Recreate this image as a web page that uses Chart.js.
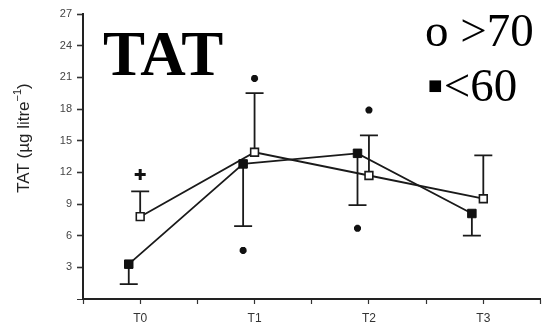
<!DOCTYPE html>
<html>
<head>
<meta charset="utf-8">
<script src="https://cdn.jsdelivr.net/npm/chart.js@4/dist/chart.umd.min.js"></script>
<style>
  html, body { margin: 0; padding: 0; background: #fff; }
  #wrap { width: 549px; height: 329px; position: relative; }
</style>
</head>
<body>
<div id="wrap"><canvas id="tatChart"></canvas></div>
<script>
// Data
const TIMEPOINTS = ['T0', 'T1', 'T2', 'T3'];
const Y_TICKS = [3, 6, 9, 12, 15, 18, 21, 24, 27];

// o >70 group (open squares, error bars upward)
const OVER70_MEAN = [7.8, 13.9, 11.7, 9.5];
const OVER70_UPPER = [10.2, 19.5, 15.5, 13.6];

// <60 group (filled squares, error bars downward)
const UNDER60_MEAN = [3.3, 12.8, 13.8, 8.1];
const UNDER60_LOWER = [1.4, 6.9, 8.9, 6.0];

// significance marks: [timepoint index, group, value]
const STAR_TIME = [1, 1, 2, 2];
const STAR_GROUP = ['over70', 'under60', 'over70', 'under60'];
const STAR_VALUE = [20.9, 4.6, 17.9, 6.7];
const PLUS_TIME = [0];
const PLUS_VALUE = [11.8];

const GROUP_SHIFT = { over70: 0, under60: -0.1 };

const pts = (vals, shift) => vals.map((v, i) => ({ x: i + shift, y: v }));

// error bars through the scales
const errorBars = {
    id: 'errorBars',
    beforeDatasetsDraw(chart) {
        const { ctx, scales: { x, y } } = chart;
        const cap = 9;
        ctx.save();
        ctx.strokeStyle = '#1a1a1a';
        ctx.lineWidth = 1.8;
        const draw = (means, ends, shift) => {
            means.forEach((m, i) => {
                const px = x.getPixelForValue(i + shift);
                const y0 = y.getPixelForValue(m);
                const y1 = y.getPixelForValue(ends[i]);
                ctx.beginPath();
                ctx.moveTo(px, y0); ctx.lineTo(px, y1);
                ctx.moveTo(px - cap, y1); ctx.lineTo(px + cap, y1);
                ctx.stroke();
            });
        };
        draw(OVER70_MEAN, OVER70_UPPER, GROUP_SHIFT.over70);
        draw(UNDER60_MEAN, UNDER60_LOWER, GROUP_SHIFT.under60);
        ctx.restore();
    }
};

// big title, legend text and the y-axis title
const labels = {
    id: 'labels',
    afterDraw(chart) {
        const ctx = chart.ctx;
        ctx.save();
        ctx.fillStyle = '#000';
        ctx.textBaseline = 'alphabetic';
        ctx.font = 'bold 63px "Liberation Serif", "Times New Roman", serif';
        ctx.fillText('TAT', 103, 75);
        ctx.font = '47px "Liberation Serif", "Times New Roman", serif';
        ctx.fillText('o >70', 425, 46);
        ctx.fillText('\u25AA<60', 427, 101);
        ctx.restore();

        // y-axis title with a real superscript
        ctx.save();
        ctx.translate(24, 138);
        ctx.rotate(-Math.PI / 2);
        ctx.fillStyle = '#222';
        ctx.textBaseline = 'middle';
        const main = '17px "Liberation Sans", Arial, sans-serif';
        const sup = '11px "Liberation Sans", Arial, sans-serif';
        ctx.font = main;
        const a = 'TAT (\u00B5g litre', c = ')';
        const wa = ctx.measureText(a).width, wc = ctx.measureText(c).width;
        ctx.font = sup;
        const wb = ctx.measureText('\u22121').width;
        let x0 = -(wa + wb + wc) / 2;
        ctx.font = main;
        ctx.fillText(a, x0, 0);
        ctx.font = sup;
        ctx.fillText('\u22121', x0 + wa, -6);
        ctx.font = main;
        ctx.fillText(c, x0 + wa + wb, 0);
        ctx.restore();
    }
};

const ctx = document.getElementById('tatChart').getContext('2d');
new Chart(ctx, {
    type: 'scatter',
    data: {
        datasets: [
            {
                label: '>70',
                data: pts(OVER70_MEAN, GROUP_SHIFT.over70),
                showLine: true,
                borderColor: '#1a1a1a',
                borderWidth: 1.8,
                pointStyle: 'rect',
                pointRadius: 5.5,
                pointBackgroundColor: '#fff',
                pointBorderColor: '#1a1a1a',
                pointBorderWidth: 1.6,
                order: 2
            },
            {
                label: '<60',
                data: pts(UNDER60_MEAN, GROUP_SHIFT.under60),
                showLine: true,
                borderColor: '#1a1a1a',
                borderWidth: 1.8,
                pointStyle: 'rect',
                pointRadius: 6,
                pointBackgroundColor: '#111',
                pointBorderColor: '#111',
                pointBorderWidth: 1,
                order: 1
            },
            {
                label: 'stars',
                data: STAR_VALUE.map((v, i) => ({ x: STAR_TIME[i] + GROUP_SHIFT[STAR_GROUP[i]], y: v })),
                pointStyle: 'star',
                pointRadius: 3.5,
                borderColor: '#111',
                pointBorderWidth: 2.5
            },
            {
                label: 'plus',
                data: PLUS_VALUE.map((v, i) => ({ x: PLUS_TIME[i] + GROUP_SHIFT.over70, y: v })),
                pointStyle: 'cross',
                pointRadius: 5.5,
                borderColor: '#111',
                pointBorderWidth: 3
            }
        ]
    },
    options: {
        responsive: true,
        maintainAspectRatio: false,
        animation: false,
        layout: { padding: { top: 14, right: 0, left: 0, bottom: 0 } },
        plugins: { legend: { display: false }, tooltip: { enabled: false } },
        scales: {
            x: {
                type: 'linear',
                min: -0.5,
                max: 3.5,
                afterFit: s => { s.height = 30; },
                afterBuildTicks: s => {
                    s.ticks = [];
                    for (let v = -0.5; v <= 3.5; v += 0.5) s.ticks.push({ value: v });
                },
                grid: { drawOnChartArea: false, drawTicks: true, tickLength: 5, tickColor: '#333', tickWidth: 1.2 },
                border: { color: '#222', width: 2 },
                ticks: {
                    padding: 7,
                    color: '#333',
                    font: { family: 'Liberation Sans, Arial, sans-serif', size: 12 },
                    callback: v => Number.isInteger(v) ? TIMEPOINTS[v] : ''
                }
            },
            y: {
                min: 0,
                max: 27,
                afterFit: s => { s.width = 83; },
                afterBuildTicks: s => {
                    s.ticks = [];
                    for (let v = 0; v <= 27; v += 1.5) s.ticks.push({ value: v });
                },
                grid: {
                    drawOnChartArea: false, drawTicks: true, tickLength: 6, tickColor: '#333',
                    tickWidth: c => (c.tick && Y_TICKS.includes(c.tick.value)) ? 1.6 : 1
                },
                border: { color: '#222', width: 2 },
                ticks: {
                    padding: 5,
                    color: '#444',
                    font: { family: 'Liberation Sans, Arial, sans-serif', size: 11 },
                    callback: v => Y_TICKS.includes(v) ? String(v) : ''
                }
            }
        }
    },
    plugins: [errorBars, labels]
});
</script>
</body>
</html>
